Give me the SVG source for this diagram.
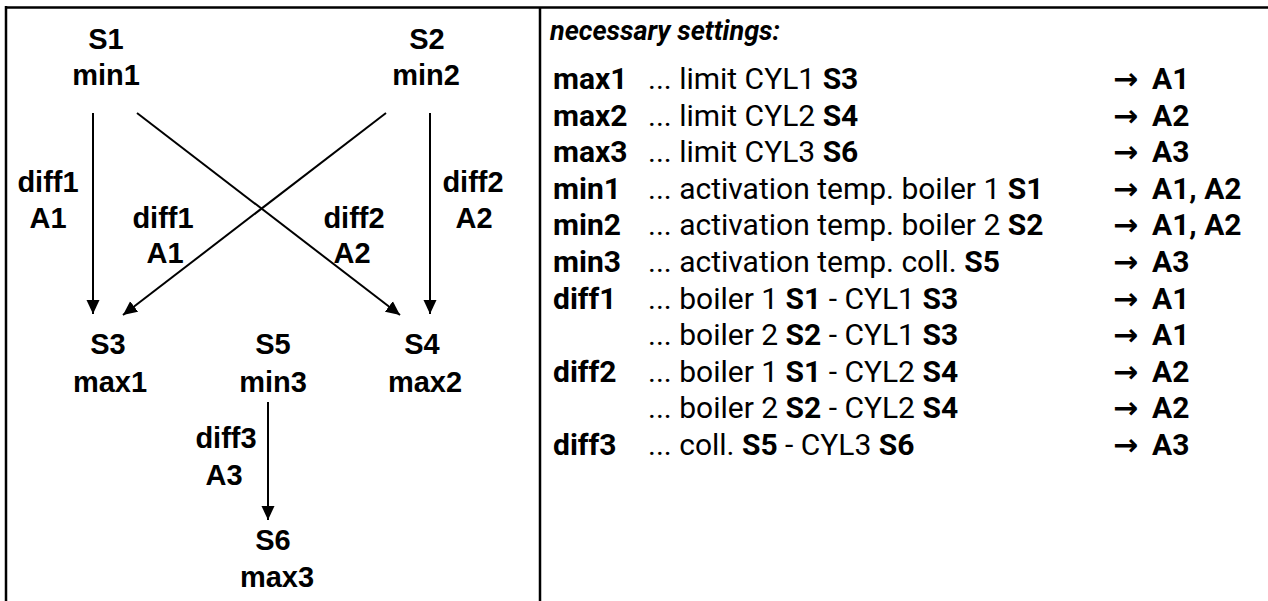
<svg xmlns="http://www.w3.org/2000/svg" width="1268" height="601" viewBox="0 0 1268 601">
<defs>
<marker id="ah" viewBox="0 0 14 14" markerWidth="14" markerHeight="14" refX="14" refY="7" orient="auto" markerUnits="userSpaceOnUse">
<path d="M0,0.5 L14,7 L0,13.5 Z" fill="#000"/>
</marker>
</defs>
<style>
.n{font-family:"Liberation Sans",Arial,sans-serif;font-weight:bold;font-size:29px;text-anchor:middle;fill:#000}
.r{font-family:Roboto,"Liberation Sans",sans-serif;font-size:30px;fill:#000}
.b{font-weight:bold}
.ar{font-family:"DejaVu Sans",sans-serif;font-weight:bold;font-size:30px}
.c{stroke:#000;stroke-width:2;fill:none}
</style>
<rect width="1268" height="601" fill="#fff"/>
<g id="frame" stroke="#000" stroke-width="2.5" fill="none">
<line x1="5" y1="7.5" x2="1268" y2="7.5"/>
<line x1="6" y1="6" x2="6" y2="601"/>
<line x1="540" y1="7.5" x2="540" y2="601"/>
</g>
<g id="connectors">
<line class="c" x1="93" y1="113" x2="93" y2="314" marker-end="url(#ah)"/>
<line class="c" x1="430" y1="113" x2="430" y2="314" marker-end="url(#ah)"/>
<line class="c" x1="137" y1="113" x2="400" y2="315" marker-end="url(#ah)"/>
<line class="c" x1="386" y1="113" x2="123" y2="315" marker-end="url(#ah)"/>
<line class="c" x1="268" y1="402" x2="268" y2="520" marker-end="url(#ah)"/>
</g>
<g id="S1"><text class="n" x="106" y="49">S1</text><text class="n" x="106" y="85">min1</text></g>
<g id="S2"><text class="n" x="427" y="49">S2</text><text class="n" x="426" y="85">min2</text></g>
<g id="S3"><text class="n" x="108" y="354">S3</text><text class="n" x="110" y="392">max1</text></g>
<g id="S5"><text class="n" x="273" y="354">S5</text><text class="n" x="273" y="392">min3</text></g>
<g id="S4"><text class="n" x="422" y="354">S4</text><text class="n" x="425" y="392">max2</text></g>
<g id="S6"><text class="n" x="273" y="550">S6</text><text class="n" x="277" y="587">max3</text></g>
<g id="labels">
<text class="n" x="48" y="192">diff1</text><text class="n" x="48" y="228">A1</text>
<text class="n" x="163" y="228">diff1</text><text class="n" x="165" y="263">A1</text>
<text class="n" x="354" y="228">diff2</text><text class="n" x="352" y="263">A2</text>
<text class="n" x="473" y="192">diff2</text><text class="n" x="474" y="228">A2</text>
<text class="n" x="226" y="448">diff3</text><text class="n" x="224" y="485">A3</text>
</g>
<g id="settings" class="r">
<text x="550" y="40" font-size="27" font-weight="bold" font-style="italic">necessary settings:</text>
<text y="89"><tspan x="553" class="b">max1</tspan><tspan x="648">... limit CYL1 </tspan><tspan class="b">S3</tspan><tspan x="1113" class="ar">→</tspan><tspan x="1152" class="b">A1</tspan></text>
<text y="125.6"><tspan x="553" class="b">max2</tspan><tspan x="648">... limit CYL2 </tspan><tspan class="b">S4</tspan><tspan x="1113" class="ar">→</tspan><tspan x="1152" class="b">A2</tspan></text>
<text y="162.2"><tspan x="553" class="b">max3</tspan><tspan x="648">... limit CYL3 </tspan><tspan class="b">S6</tspan><tspan x="1113" class="ar">→</tspan><tspan x="1152" class="b">A3</tspan></text>
<text y="198.8"><tspan x="553" class="b">min1</tspan><tspan x="648">... activation temp. boiler 1 </tspan><tspan class="b">S1</tspan><tspan x="1113" class="ar">→</tspan><tspan x="1152" class="b">A1, A2</tspan></text>
<text y="235.4"><tspan x="553" class="b">min2</tspan><tspan x="648">... activation temp. boiler 2 </tspan><tspan class="b">S2</tspan><tspan x="1113" class="ar">→</tspan><tspan x="1152" class="b">A1, A2</tspan></text>
<text y="272"><tspan x="553" class="b">min3</tspan><tspan x="648">... activation temp. coll. </tspan><tspan class="b">S5</tspan><tspan x="1113" class="ar">→</tspan><tspan x="1152" class="b">A3</tspan></text>
<text y="308.6"><tspan x="553" class="b">diff1</tspan><tspan x="648">... boiler 1 </tspan><tspan class="b">S1</tspan><tspan> - CYL1 </tspan><tspan class="b">S3</tspan><tspan x="1113" class="ar">→</tspan><tspan x="1152" class="b">A1</tspan></text>
<text y="345.2"><tspan x="648">... boiler 2 </tspan><tspan class="b">S2</tspan><tspan> - CYL1 </tspan><tspan class="b">S3</tspan><tspan x="1113" class="ar">→</tspan><tspan x="1152" class="b">A1</tspan></text>
<text y="381.8"><tspan x="553" class="b">diff2</tspan><tspan x="648">... boiler 1 </tspan><tspan class="b">S1</tspan><tspan> - CYL2 </tspan><tspan class="b">S4</tspan><tspan x="1113" class="ar">→</tspan><tspan x="1152" class="b">A2</tspan></text>
<text y="418.4"><tspan x="648">... boiler 2 </tspan><tspan class="b">S2</tspan><tspan> - CYL2 </tspan><tspan class="b">S4</tspan><tspan x="1113" class="ar">→</tspan><tspan x="1152" class="b">A2</tspan></text>
<text y="455"><tspan x="553" class="b">diff3</tspan><tspan x="648">... coll. </tspan><tspan class="b">S5</tspan><tspan> - CYL3 </tspan><tspan class="b">S6</tspan><tspan x="1113" class="ar">→</tspan><tspan x="1152" class="b">A3</tspan></text>
</g>
</svg>
